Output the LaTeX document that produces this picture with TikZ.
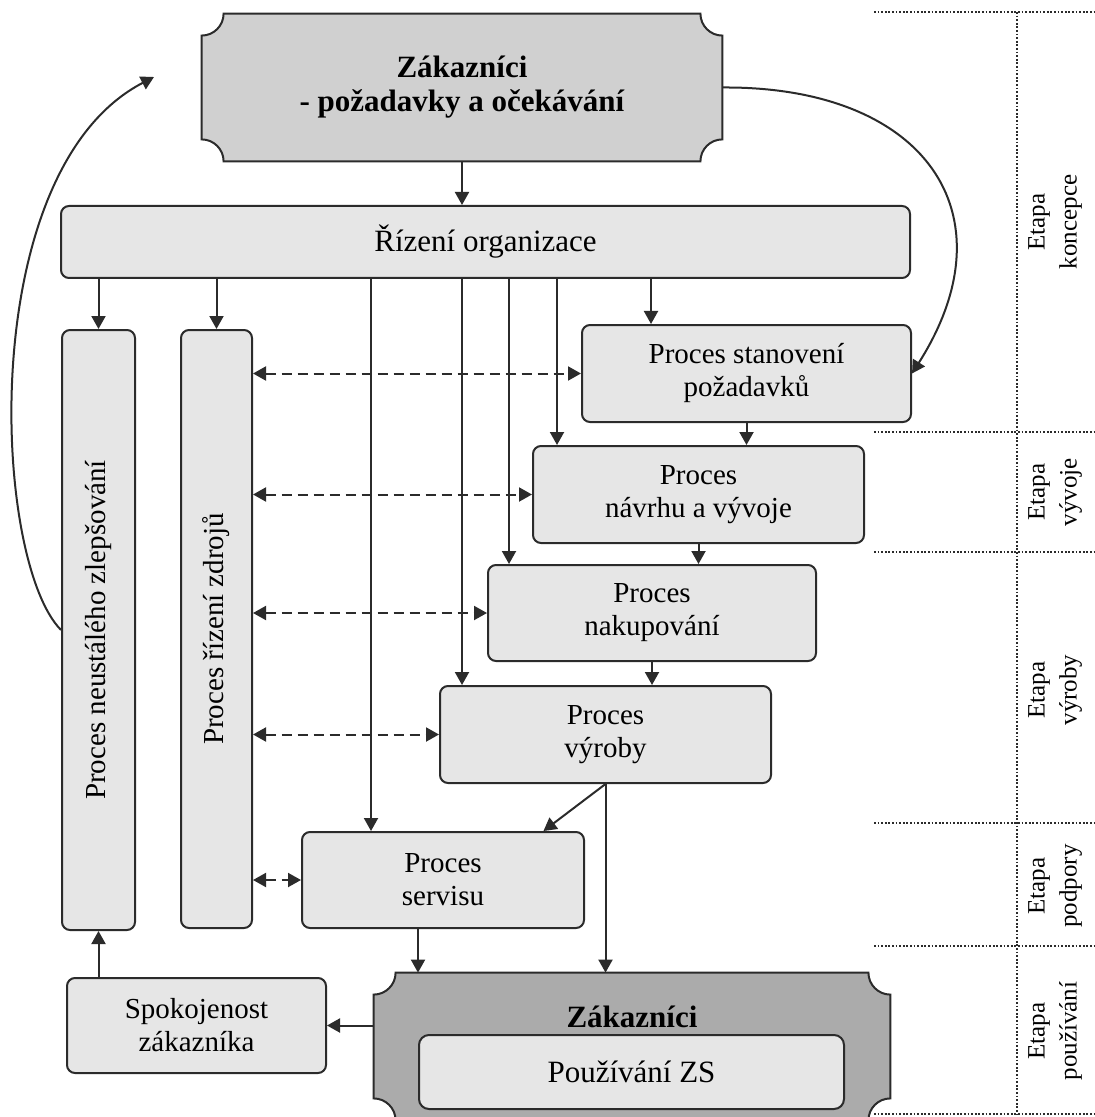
\documentclass[tikz,border=0pt]{standalone}
\usepackage{fontspec}
\setmainfont{Liberation Serif}
\usetikzlibrary{arrows.meta,backgrounds}
\definecolor{dgline}{HTML}{2B2B2B}
\definecolor{dgproc}{HTML}{E6E6E6}
\definecolor{dgcust}{HTML}{D0D0D0}
\definecolor{dguse}{HTML}{ABABAB}
\tikzset{
  pr/.style  = {rectangle, rounded corners=4pt, draw=dgline, line width=1pt,
                fill=dgproc, inner sep=0pt, align=center,
                font=\fontsize{14.5}{16.5}\selectfont},
  nb/.style  = {rectangle, inner sep=0pt, align=center,
                font=\bfseries\fontsize{15.5}{17}\selectfont},
  nbo/.style = {draw=dgline, line width=1pt},
  ed/.style  = {-{Triangle[length=6.5pt,width=7pt]}, draw=dgline, line width=1pt},
  edd/.style = {{Triangle[length=6.5pt,width=7pt]}-{Triangle[length=6.5pt,width=7pt]},
                draw=dgline, line width=1pt, dash pattern=on 5pt off 3pt},
  stg/.style = {rotate=90, align=center, inner sep=0pt,
                font=\fontsize{12.5}{16}\selectfont},
  sep/.style = {draw=dgline, line width=0.7pt, dash pattern=on 0.9pt off 0.9pt},
}

\begin{document}
\begin{tikzpicture}[x=0.5pt,y=-0.5pt]
  \useasboundingbox (0,0) rectangle (1094,1117);

  % --- customers (top)
  \node[nb, minimum width=260pt, minimum height=73.5pt] (cust) at (462,87.5)
    {Zákazníci\\- požadavky a očekávání};

  % --- management and support processes
  \node[pr, minimum width=424.5pt, minimum height=36pt,
        font=\fontsize{15.5}{17}\selectfont] (mgmt) at (485.5,242) {Řízení organizace};
  \node[pr, minimum width=36.5pt, minimum height=300pt] (impr) at (98.5,630)
    {\rotatebox{90}{Proces neustálého zlepšování}};
  \node[pr, minimum width=35.5pt, minimum height=299pt] (res) at (216.5,629)
    {\rotatebox{90}{Proces řízení zdrojů}};

  % --- realisation chain
  \node[pr, minimum width=164.5pt, minimum height=48.5pt] (req) at (746.5,373.5)
    {Proces stanovení\\požadavků};
  \node[pr, minimum width=165.5pt, minimum height=48.5pt] (dev) at (698.5,494.5)
    {Proces\\návrhu a vývoje};
  \node[pr, minimum width=164pt, minimum height=48pt] (buy) at (652,613)
    {Proces\\nakupování};
  \node[pr, minimum width=165.5pt, minimum height=48.5pt] (prod) at (605.5,734.5)
    {Proces\\výroby};
  \node[pr, minimum width=141pt, minimum height=48pt] (serv) at (443,880)
    {Proces\\servisu};
  \node[pr, minimum width=129.5pt, minimum height=47.5pt] (sat) at (196.5,1025.5)
    {Spokojenost\\zákazníka};

  % --- customers (bottom)
  \node[nb, minimum width=258pt, minimum height=73.5pt] (use) at (632,1046.5) {};
  \node[nb] (usetitle) at (632,1017) {Zákazníci};
  \node[pr, minimum width=212.5pt, minimum height=37pt, rounded corners=5pt,
        font=\fontsize{15.5}{17}\selectfont] (usein) at (631.5,1072) {Používání ZS};

  % --- notched outlines
  \begin{scope}[on background layer]
    \foreach \n/\c in {cust/dgcust, use/dguse}{
      \draw[nbo, fill=\c]
        ([yshift=-11pt]\n.north west) arc[start angle=-90, end angle=0, radius=11pt]
        -- ([xshift=-11pt]\n.north east) arc[start angle=180, end angle=270, radius=11pt]
        -- ([yshift=11pt]\n.south east) arc[start angle=90, end angle=180, radius=11pt]
        -- ([xshift=11pt]\n.south west) arc[start angle=0, end angle=90, radius=11pt]
        -- cycle;
    }
  \end{scope}

  % --- entry points on box tops
  \coordinate (inreq) at ([xshift=35pt]req.north west);
  \coordinate (indev) at ([xshift=12.5pt]dev.north west);
  \coordinate (inbuy) at ([xshift=11pt]buy.north west);
  \coordinate (inprod) at ([xshift=11.5pt]prod.north west);
  \coordinate (inserv) at ([xshift=35pt]serv.north west);
  \coordinate (outserv) at ([xshift=58.5pt]serv.south west);
  \coordinate (imprtip) at (154,77);

  % --- arrows
  \draw[ed] (cust.south) -- (cust.south |- mgmt.north);
  \draw[ed] (impr.north |- mgmt.south) -- (impr.north);
  \draw[ed] (res.north |- mgmt.south) -- (res.north);
  \foreach \t in {inreq,indev,inbuy,inprod,inserv}
    \draw[ed] (\t |- mgmt.south) -- (\t);
  \draw[ed] (req.south) -- (req.south |- dev.north);
  \draw[ed] (dev.south) -- (dev.south |- buy.north);
  \draw[ed] (buy.south) -- (buy.south |- prod.north);
  \draw[ed] (prod.south) -- (serv.26);
  \draw[ed] (prod.south) -- (prod.south |- use.north);
  \draw[ed] (outserv) -- (outserv |- use.north);
  \draw[ed] (sat.east -| use.west) -- (sat.east);
  \draw[ed] (impr.south |- sat.north) -- (impr.south);
  \foreach \p in {req,dev,buy,prod,serv}
    \draw[edd] (\p.west -| res.east) -- (\p.west);

  % --- feedback curves
  \draw[ed] (impr.west) .. controls (-8,560) and (-25,170) .. (imprtip);
  \draw[ed] (cust.east) .. controls (924,86) and (1014,213) .. (req.east);

  % --- stages column
  \draw[sep] (1017,12) -- (1017,1114);
  \foreach \y in {12,432,552,823,946,1114}
    \draw[sep] (874,\y) -- (1094,\y);
  \node[stg] (stkon) at (1055,222) {Etapa\\koncepce};
  \node[stg] (stvyv) at (1055,492) {Etapa\\vývoje};
  \node[stg] (stvyr) at (1055,690) {Etapa\\výroby};
  \node[stg] (stpod) at (1055,886) {Etapa\\podpory};
  \node[stg] (stpou) at (1055,1031) {Etapa\\používání};
\end{tikzpicture}
\end{document}
